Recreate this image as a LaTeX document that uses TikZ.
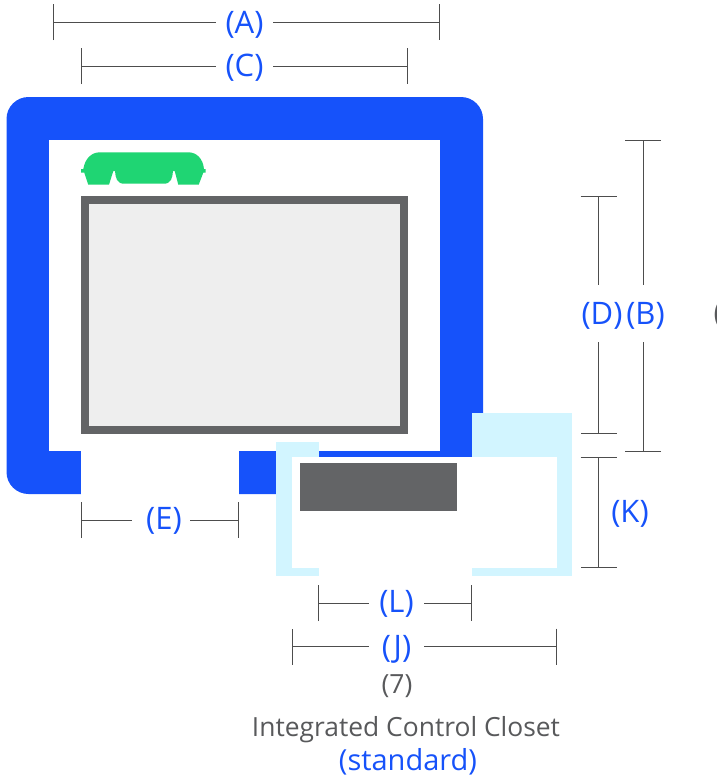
\documentclass[tikz,border=0pt]{standalone}
\usepackage{fontspec}
\setmainfont{Open Sans}
\usetikzlibrary{arrows.meta,positioning}
\definecolor{frameblue}{HTML}{1652FA}
\definecolor{closetblue}{HTML}{D2F5FF}
\definecolor{benchgreen}{HTML}{1FD573}
\definecolor{darkgray}{HTML}{636466}
\definecolor{panelgray}{HTML}{EEEEEE}
\definecolor{linegray}{HTML}{4D4D4D}
\definecolor{textgray}{HTML}{58595B}
\newcommand{\dimtext}[1]{\raisebox{-.36em}[0pt][0pt]{#1}}
\begin{document}
\begin{tikzpicture}[
    x=1pt,y=-1pt,
    %styles
    dimbar/.style={linegray,line width=1pt,shorten <=-.5pt,{Bar[width=36pt,line width=1pt]}-},
    dimlabel/.style={text=frameblue,font=\fontsize{31}{34}\selectfont,inner sep=0pt,minimum width=57pt,minimum height=57pt},
    caption/.style={font=\fontsize{26.4}{30}\selectfont,inner sep=0pt},
  ]
  \useasboundingbox (0,0) rectangle (716,780);

  %outer frame
  \fill[frameblue,rounded corners=22pt] (6.5,97) rectangle (483,494);
  \fill[white] (49,140) rectangle (440,451);
  \fill[white] (81,451) rectangle (238.5,495);
  \draw[darkgray,line width=8pt,fill=panelgray] (85,200.2) rectangle (404,429.5);

  %green tabs
  \fill[benchgreen] (83.3,169) .. controls (85,159) and (91,152.3) .. (100,152.3) -- (188.3,152.3)
  .. controls (197,152.3) and (203,159) .. (204,169) -- (205.7,169) -- (205.7,172.7) -- (203.3,172.7)
  -- (198.7,184.7) -- (178.3,184.7) -- (174.7,171) -- (173,171)
  .. controls (172.5,178) and (171,183.7) .. (164,183.7) -- (124,183.7)
  .. controls (117,183.7) and (115.5,178) .. (115,171) -- (113.3,171) -- (109,184.7) -- (88.3,184.7)
  -- (84.3,172.7) -- (81,172.7) -- (81,169) -- cycle;

  %closet
  \fill[closetblue] (276,442) rectangle (319,576);
  \fill[closetblue] (472,413) rectangle (572,576);
  \fill[white] (292.3,457.3) rectangle (557,568);
  \fill[white] (319,568) rectangle (472,577);
  \fill[darkgray] (300,463) rectangle (457,511);

  %horizontal dimensions
  \foreach \nm/\xa/\xb/\yy/\lx/\ly/\lw in {A/53/439/22/244.5/22/57,C/81/407.5/66/244.5/65/57,E/81/238.5/520/161/518/58,L/318/471.5/603/396.5/601/55,J/292/556.5/646.5/396.5/646/55}{
    \coordinate (\nm1) at (\xa,\yy);
    \coordinate (\nm2) at (\xb,\yy);
    \node[dimlabel,minimum width=\lw pt] (\nm) at (\lx,\ly) {\if\nm E\hspace{6pt}\fi\dimtext{(\nm)}};
    \draw[dimbar] (\nm1) -- (\nm.west |- \nm1);
    \draw[dimbar] (\nm2) -- (\nm.east |- \nm2);
  }

  %vertical dimensions
  \foreach \nm/\xx/\ya/\yb/\lx in {D/598.5/196/433.3/602,B/643/140/451.5/645.5}{
    \coordinate (\nm1) at (\xx,\ya);
    \coordinate (\nm2) at (\xx,\yb);
    \node[dimlabel] (\nm) at (\lx,313.5) {\dimtext{(\nm)}};
    \draw[dimbar] (\nm1) -- (\nm1 |- \nm.north);
    \draw[dimbar] (\nm2) -- (\nm2 |- \nm.south);
  }
  \coordinate (K1) at (598.5,457.5);
  \coordinate (K2) at (598.5,567.5);
  \draw[dimbar,shorten >=-.5pt,{Bar[width=36pt,line width=1pt]}-{Bar[width=36pt,line width=1pt]}] (K1) -- (K2);
  \node[dimlabel,minimum height=0pt,minimum width=0pt] (K) at (630,511) {\dimtext{(K)}};

  \node[caption,text=textgray] (seven) at (397,686) {(7)};
  \node[caption,text=textgray] (closet) at (406,729.5) {Integrated Control Closet};
  \node[caption,text=frameblue,font=\fontsize{29}{32}\selectfont] (standard) at (408,762) {(standard)};
  \node[dimlabel,minimum height=0pt,minimum width=0pt,text=textgray,anchor=west] (cutoff) at (713.5,312) {\dimtext{(}};
\end{tikzpicture}
\end{document}
